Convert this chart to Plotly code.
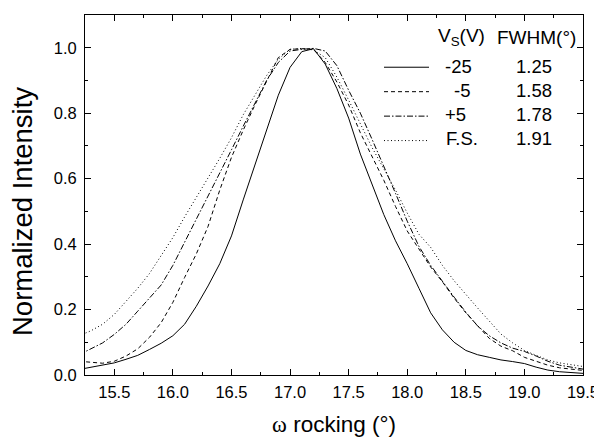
import plotly.graph_objects as go

# ---- data ----
omega = [15.2, 15.3, 15.4, 15.5, 15.6, 15.7, 15.8, 15.9, 16.0, 16.1, 16.2, 16.3, 16.4, 16.5,
         16.6, 16.7, 16.8, 16.9, 17.0, 17.1, 17.2, 17.3, 17.4, 17.5, 17.6, 17.7, 17.8, 17.9,
         18.0, 18.1, 18.2, 18.3, 18.4, 18.5, 18.6, 18.7, 18.8, 18.9, 19.0, 19.1, 19.2, 19.3,
         19.4, 19.5]

int_m25 = [0.017, 0.023, 0.030, 0.037, 0.048, 0.060, 0.078, 0.097, 0.120, 0.155, 0.210, 0.272,
           0.340, 0.425, 0.535, 0.640, 0.750, 0.855, 0.940, 0.988, 0.997, 0.950, 0.875, 0.785,
           0.675, 0.580, 0.490, 0.410, 0.340, 0.265, 0.190, 0.138, 0.100, 0.075, 0.062, 0.054,
           0.046, 0.041, 0.035, 0.024, 0.015, 0.010, 0.007, 0.005]

int_m5 = [0.042, 0.038, 0.036, 0.042, 0.058, 0.080, 0.115, 0.160, 0.222, 0.298, 0.370, 0.454,
          0.565, 0.665, 0.748, 0.825, 0.895, 0.970, 0.995, 0.997, 0.995, 0.955, 0.895, 0.825,
          0.740, 0.668, 0.595, 0.515, 0.440, 0.385, 0.330, 0.285, 0.235, 0.190, 0.150, 0.112,
          0.088, 0.074, 0.054, 0.042, 0.030, 0.022, 0.018, 0.014]

int_p5 = [0.062, 0.080, 0.098, 0.124, 0.155, 0.195, 0.235, 0.275, 0.335, 0.405, 0.475, 0.545,
          0.615, 0.688, 0.760, 0.830, 0.900, 0.955, 0.990, 0.995, 0.998, 0.990, 0.945, 0.870,
          0.800, 0.720, 0.640, 0.555, 0.470, 0.393, 0.335, 0.285, 0.238, 0.192, 0.150, 0.120,
          0.098, 0.082, 0.072, 0.058, 0.042, 0.030, 0.024, 0.018]

int_fs = [0.120, 0.135, 0.155, 0.185, 0.225, 0.265, 0.310, 0.365, 0.420, 0.483, 0.543, 0.600,
          0.662, 0.725, 0.795, 0.855, 0.915, 0.965, 0.995, 0.998, 0.993, 0.970, 0.910, 0.840,
          0.765, 0.695, 0.630, 0.565, 0.495, 0.430, 0.390, 0.335, 0.288, 0.245, 0.205, 0.165,
          0.125, 0.098, 0.075, 0.060, 0.046, 0.037, 0.031, 0.026]

vs_labels = ["-25", "-5", "+5", "F.S."]
fwhm_labels = ["1.25", "1.58", "1.78", "1.91"]
series = [int_m25, int_m5, int_p5, int_fs]
dashes = ["solid", "4px,3px", "6px,2px,1.5px,2px", "1px,2.5px"]

x_ticks = [15.5, 16.0, 16.5, 17.0, 17.5, 18.0, 18.5, 19.0, 19.5]
y_ticks = [0.0, 0.2, 0.4, 0.6, 0.8, 1.0]

FONT = "Liberation Sans, Arial, sans-serif"

# The page body has an 8 px margin, so the figure is drawn 8 px right/down.
OFF = 8
# plot-area geometry in page pixels
L, R, T, B = 85, 583, 15, 375
W, H = 602 - OFF, 441 - OFF


def px(xp):
    return (xp - L) / (R - L)


def py(yp):
    return (B - yp) / (B - T)


fig = go.Figure()
for ys, dash in zip(series, dashes):
    fig.add_trace(go.Scatter(
        x=omega, y=ys, mode="lines",
        line=dict(color="black", width=1, dash=dash),
        name="\u00a0",
    ))

axis_common = dict(
    showline=True, linecolor="black", linewidth=1, mirror="ticks",
    ticks="inside", ticklen=6, tickwidth=1, tickcolor="black",
    showgrid=False, zeroline=False, automargin=False,
    tickfont=dict(family=FONT, size=16.5, color="black"),
)

fig.update_xaxes(
    range=[15.25, 19.5], tickvals=x_ticks, ticktext=[f"{v:.1f}" for v in x_ticks],
    minor=dict(dtick=0.25, tick0=15.25, ticks="inside", ticklen=3, tickcolor="black", showgrid=False),
    ticklabelstandoff=2,
    title=dict(text="<span style=\"font-family:'Liberation Serif'\">\u03c9</span> rocking (°)",
               font=dict(family=FONT, size=22.5, color="black"), standoff=16),
    **axis_common,
)
fig.update_yaxes(
    range=[0, 1.1], tickvals=y_ticks, ticktext=[f"{v:.1f}" for v in y_ticks],
    minor=dict(dtick=0.1, tick0=0, ticks="inside", ticklen=3, tickcolor="black", showgrid=False),
    ticklabelstandoff=4,
    **axis_common,
)

# y-axis title (placed as in the reference, slightly below the plot centre)
fig.add_annotation(xref="paper", yref="paper", x=px(22), y=py(212),
                   xanchor="center", yanchor="middle", showarrow=False, textangle=-90,
                   text="Normalized Intensity", font=dict(family=FONT, size=27.5, color="black"))

# legend header
fig.add_annotation(xref="paper", yref="paper", x=px(436), y=py(37),
                   xanchor="left", yanchor="middle", showarrow=False,
                   text="V<sub>S</sub>(V)", font=dict(family=FONT, size=19, color="black"))
fig.add_annotation(xref="paper", yref="paper", x=px(495), y=py(37),
                   xanchor="left", yanchor="middle", showarrow=False,
                   text="FWHM(°)", font=dict(family=FONT, size=19, color="black"))

# legend row texts
row_y = [66, 90, 114, 138]
vs_x = [443, 452, 443, 444]
for lab, fw, ry, vx in zip(vs_labels, fwhm_labels, row_y, vs_x):
    fig.add_annotation(xref="paper", yref="paper", x=px(vx), y=py(ry),
                       xanchor="left", yanchor="middle", showarrow=False,
                       text=lab, font=dict(family=FONT, size=18.5, color="black"))
    fig.add_annotation(xref="paper", yref="paper", x=px(554), y=py(ry),
                       xanchor="right", yanchor="middle", showarrow=False,
                       text=fw, font=dict(family=FONT, size=18.5, color="black"))

fig.update_layout(
    width=W, height=H,
    margin=dict(l=L - OFF, r=602 - R, t=T - OFF, b=441 - B),
    paper_bgcolor="white", plot_bgcolor="white",
    showlegend=True,
    legend=dict(x=px(379), y=py(50), xanchor="left", yanchor="top",
                bgcolor="rgba(0,0,0,0)", borderwidth=0, itemwidth=45,
                font=dict(family=FONT, size=16.5, color="black"), tracegroupgap=0),
    font=dict(family=FONT, color="black"),
)

fig.write_html("out.html")
